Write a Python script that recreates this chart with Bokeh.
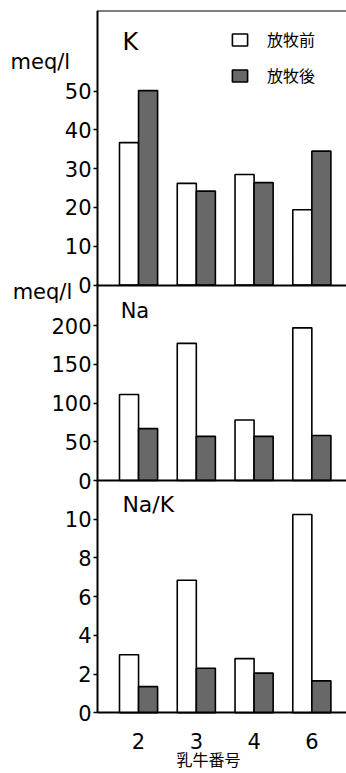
from bokeh.plotting import figure
from bokeh.models import (Label, FixedTicker, Legend, LegendItem, ColumnDataSource,
                          LinearAxis, Range1d)
from bokeh.embed import file_html
from bokeh.resources import INLINE

# ---- data ----
cows = ["2", "3", "4", "6"]
k_before = [36.7, 26.2, 28.5, 19.4]
k_after = [50.1, 24.2, 26.4, 34.5]
na_before = [111, 177, 78, 197]
na_after = [67, 57, 57, 58]
nak_before = [3.0, 6.85, 2.8, 10.25]
nak_after = [1.35, 2.3, 2.05, 1.65]
k_ticks = [0, 10, 20, 30, 40, 50]
na_ticks = [0, 50, 100, 150, 200]
nak_ticks = [0, 2, 4, 6, 8, 10]
legend_labels = ["放牧前", "放牧後"]
panel_names = ["K", "Na", "Na/K"]
xlabel = "乳牛番号"
unit = "meq/l"

# ---- layout / style ----
DARK = "#686868"
NUM_FONT = "DejaVu Sans"
JP_FONT = "Noto Sans CJK JP"
X_RANGE = (-2.39, 3.60)      # frame spans the whole width
AXIS_X = -0.71               # where the vertical axis sits
W = 0.33
OFF = 0.165
K_RANGE = (-125.64, 70.75)
NA_RANGE = (-376.77, 606.45)
NAK_RANGE = (-3.085, 36.29)
K_TOP, NA_TOP, NAK_TOP = 70.75, 252.9, 12.0

idx = list(range(len(cows)))

p = figure(frame_width=346, frame_height=762, output_backend="svg", toolbar_location=None,
           x_range=X_RANGE, y_range=K_RANGE, y_axis_location=None, x_axis_location=None,
           min_border_left=0, min_border_right=0, min_border_top=10, min_border_bottom=1)
p.extra_y_ranges = {"na": Range1d(*NA_RANGE), "nak": Range1d(*NAK_RANGE)}
p.outline_line_color = None
p.grid.visible = False


def style_y(ax, ticks):
    ax.ticker = FixedTicker(ticks=ticks, minor_ticks=[])
    ax.axis_line_width = 2
    ax.axis_line_color = "black"
    ax.major_tick_out = 4
    ax.major_tick_in = 0
    ax.major_tick_line_width = 1.5
    ax.major_tick_line_color = "black"
    ax.minor_tick_line_color = None
    ax.major_label_standoff = 2
    ax.major_label_text_font = NUM_FONT
    ax.major_label_text_font_size = "21px"
    ax.major_label_text_color = "black"


def line_axis(range_name, loc, side):
    ax = LinearAxis(y_range_name=range_name, fixed_location=loc,
                    bounds=(AXIS_X, X_RANGE[1]))
    ax.ticker = FixedTicker(ticks=[], minor_ticks=[])
    ax.axis_line_width = 2
    ax.axis_line_color = "black"
    ax.major_tick_line_color = None
    ax.minor_tick_line_color = None
    ax.major_label_text_font_size = "0px"
    p.add_layout(ax, side)


# vertical axes, one per panel, all on the same line
for name, ticks, top in [("default", k_ticks, K_TOP), ("na", na_ticks, NA_TOP),
                         ("nak", nak_ticks, NAK_TOP)]:
    ax = LinearAxis(y_range_name=name, fixed_location=AXIS_X, bounds=(0, top))
    style_y(ax, ticks)
    p.add_layout(ax, "left")

# base lines of K and Na panels, top border of K panel
line_axis("default", 0, "below")
line_axis("na", 0, "below")
line_axis("default", K_TOP, "above")


def add_bars(before, after, rname):
    src = ColumnDataSource(dict(xb=[i - OFF for i in idx], xa=[i + OFF for i in idx],
                                before=before, after=after))
    r1 = p.vbar(x="xb", top="before", bottom=0, width=W, source=src, y_range_name=rname,
                fill_color="white", line_color="black", line_width=1.6)
    r2 = p.vbar(x="xa", top="after", bottom=0, width=W, source=src, y_range_name=rname,
                fill_color=DARK, line_color="black", line_width=1.6)
    return r1, r2


r1, r2 = add_bars(k_before, k_after, "default")
add_bars(na_before, na_after, "na")
add_bars(nak_before, nak_after, "nak")


def label(x, y, text, size, rname, font=NUM_FONT, align="left"):
    p.add_layout(Label(x=x, y=y, text=text, text_font=font, text_font_size=size,
                       y_range_name=rname, text_color="black", text_align=align,
                       text_baseline="alphabetic"))


label(-0.277, 62.7, panel_names[0], "24px", "default")
label(-0.31, 218.1, panel_names[1], "21px", "na")
label(-0.28, 10.77, panel_names[2], "22px", "nak")
label(-2.216, 57.6, unit, "21px", "default")
label(-2.18, 243.6, unit, "21px", "na")
label(1.21, -2.38, xlabel, "16px", "nak", font=JP_FONT, align="center")

legend = Legend(items=[LegendItem(label=legend_labels[0], renderers=[r1]),
                       LegendItem(label=legend_labels[1], renderers=[r2])],
                location=(230, 685), padding=0, margin=0, spacing=12,
                glyph_width=19, glyph_height=15, label_height=20,
                label_standoff=18, label_text_font=JP_FONT, label_text_font_size="16px",
                label_text_color="black",
                border_line_color=None, background_fill_alpha=0)
p.add_layout(legend)

# bottom axis of the Na/K panel (its line is the panel's base line)
xa = LinearAxis(y_range_name="nak", fixed_location=0, bounds=(AXIS_X, X_RANGE[1]))
xa.ticker = FixedTicker(ticks=idx, minor_ticks=[])
xa.major_label_overrides = {i: c for i, c in zip(idx, cows)}
xa.axis_line_width = 2
xa.axis_line_color = "black"
xa.major_tick_line_color = None
xa.minor_tick_line_color = None
xa.major_label_standoff = 14
xa.major_label_text_font = NUM_FONT
xa.major_label_text_font_size = "21px"
xa.major_label_text_color = "black"
p.add_layout(xa, "below")

open("out.html", "w").write(file_html(p, INLINE))
